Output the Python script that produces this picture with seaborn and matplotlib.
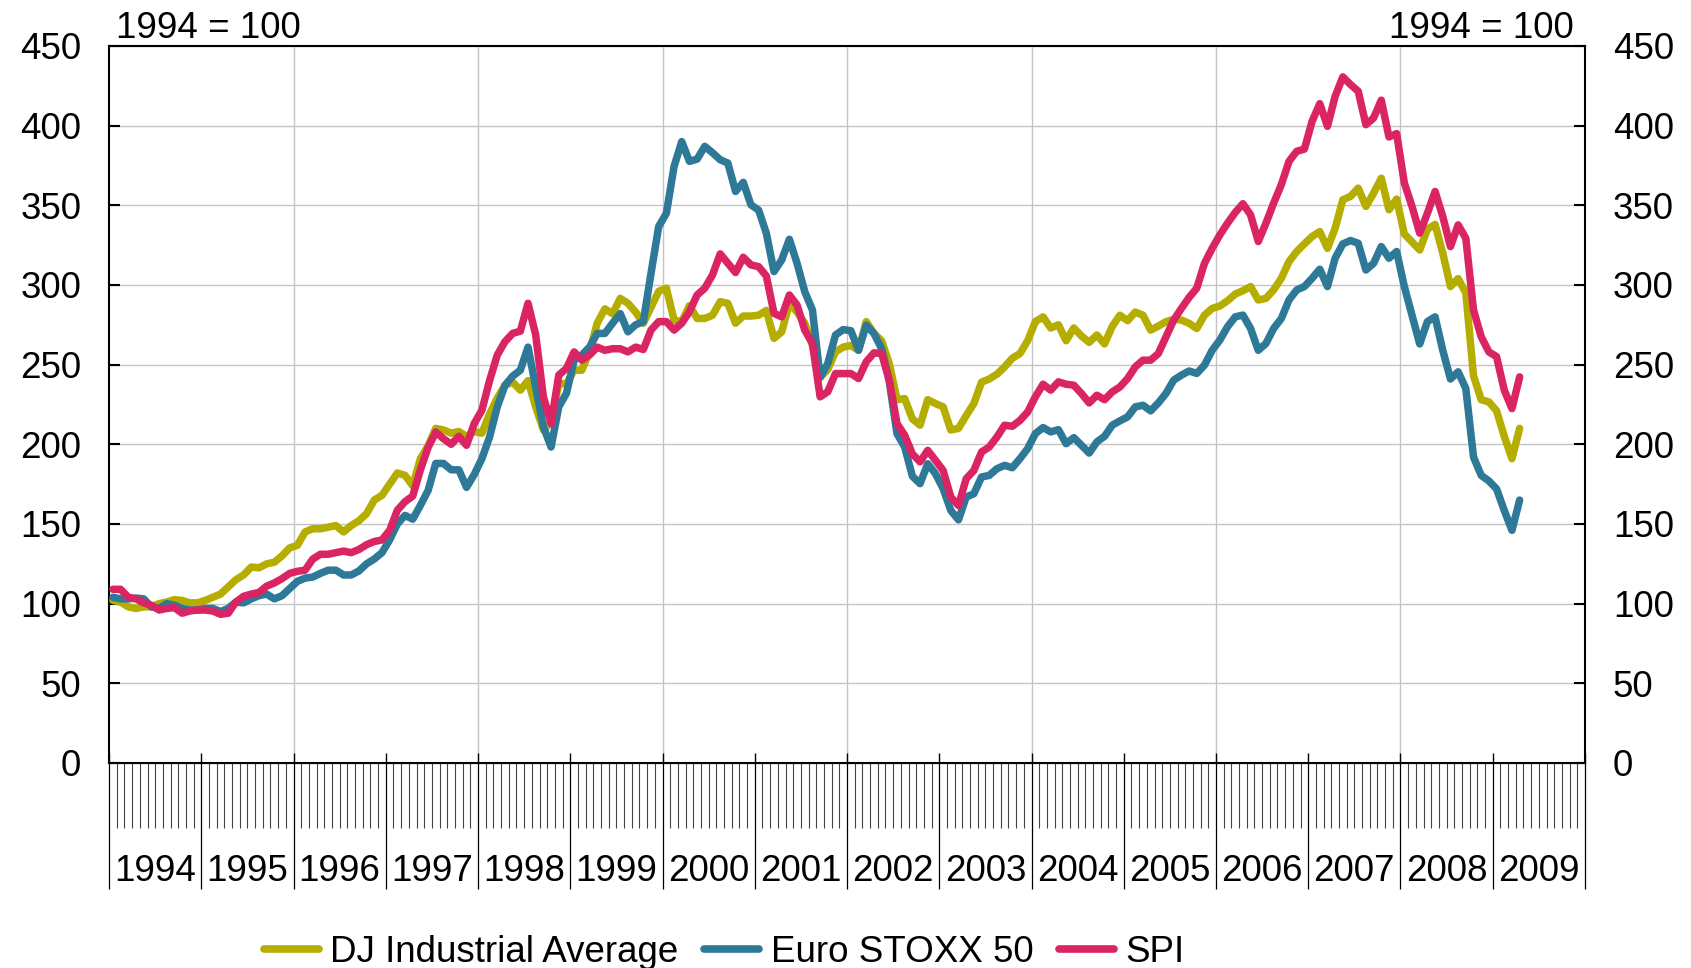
import numpy as np
import pandas as pd
import matplotlib
matplotlib.use("Agg")
import matplotlib.pyplot as plt
import matplotlib.transforms as mtransforms
import seaborn as sns

# Monatswerte Jan 1994 - Apr 2009, Index 1994 = 100
years = [str(y) for y in range(1994, 2010)]

dj = [
    102, 101, 98, 97, 98, 98, 100, 101, 102.5, 102, 100.5, 100.5,          # 1994
    102, 104, 106, 110.5, 115, 118, 123, 122.5, 125, 126, 130, 135,        # 1995
    136.6, 145, 147, 147, 148, 149, 145, 149, 152, 156.5, 165, 168,        # 1996
    175, 182, 180.5, 174, 191, 199, 210, 209, 207, 208, 205, 208,          # 1997
    207, 219, 229, 237, 239, 234, 240, 223.5, 209, 214, 238, 238,          # 1998
    246.5, 246.5, 258, 276, 285, 282, 291.6, 288.5, 283, 276, 286, 296,    # 1999
    298, 278, 277, 287, 279, 279, 281, 289.5, 288.5, 276, 280.5, 280.5,    # 2000
    281, 284, 266.5, 270.6, 288.5, 283, 276, 262, 242, 247, 258, 261,      # 2001
    262, 259, 277, 269.6, 265, 250.7, 228, 228.7, 216, 212, 228, 225.6,    # 2002
    223.5, 209, 210, 218, 225.6, 239, 241, 244, 248.6, 254, 257, 265,      # 2003
    277, 280, 273, 275, 265, 273, 268, 264, 268.6, 263, 274, 281,          # 2004
    277.6, 283, 281, 271.7, 274.2, 277, 278.4, 278, 275.9, 272.7, 281.1, 285.3,  # 2005
    286.8, 290.1, 294.3, 296.4, 299, 290.6, 291.6, 296.9, 304.2, 314.7, 321, 325.8,  # 2006
    330.4, 333.5, 323, 335.6, 353.5, 355.6, 360.8, 349.3, 357.6, 367, 347.2, 353.9,  # 2007
    332, 327, 322, 335, 338, 320, 299, 304, 295, 243, 228, 226.6,          # 2008
    221, 205, 191, 210,                                                    # 2009
]

stoxx = [
    104, 103, 103, 103.5, 103, 98, 97, 100, 99, 97, 96, 96,
    97, 97, 95, 97, 101, 100.5, 103, 105, 106, 103, 105, 109.5,
    114, 116, 116.7, 119, 121, 121, 118, 118, 120.5, 125, 128, 132,
    140, 150, 155.4, 153, 161.7, 171, 188, 188, 184, 184, 173, 181,
    191, 204.6, 223.5, 237, 242.8, 246.5, 261, 236, 211, 198.3, 223.5, 232,
    253, 256, 261, 269.6, 269.6, 276, 282, 270.6, 275, 277, 307.3, 336.7,
    345, 374.4, 390, 377.6, 379, 387, 383, 378.6, 376.5, 358.7, 364.4, 350.3,
    347, 332.5, 308.4, 315.7, 328.7, 313.6, 295.8, 284.3, 242, 250.7, 268.6, 272,
    271.3, 259, 274.8, 269.6, 260, 239.2, 206.7, 198.3, 180, 175.3, 187.8, 181.6,
    172.2, 158.5, 152.6, 166.9, 169, 179.5, 180.5, 184.7, 186.8, 185.3, 191, 197.3,
    206.7, 210.5, 207.8, 209.2, 200.4, 204.2, 199.4, 194.5, 201.5, 205, 212, 214.7,
    217.2, 223.5, 224.5, 221, 226, 232, 240.3, 243.4, 246, 244.5, 249.7, 259,
    265.4, 273.8, 280, 281.1, 272.7, 259, 263.3, 272.7, 279, 290.6, 296.9, 299,
    304.2, 309.9, 299, 316.8, 325.8, 327.9, 326.2, 309.4, 313.6, 324.1, 316.8, 321,
    299, 281, 263, 277, 280, 259, 241, 245.5, 235, 192, 180.5, 177,
    172, 158.5, 146, 165,
]

spi = [
    109, 109, 104, 103, 100.5, 99, 96, 97, 97.5, 94, 95.4, 96,
    96, 95.4, 93.3, 94, 101, 104.6, 106, 107, 111, 113, 115.7, 119,
    120.3, 121, 128, 131, 131, 132, 133, 132, 134, 137, 139, 140,
    146, 158.6, 164, 167.5, 184, 198, 207.7, 203.5, 200, 205, 199.4, 213,
    221.4, 240, 256, 264.4, 269.6, 271, 288.5, 268.6, 229.8, 213, 243.4, 247.6,
    258, 252.8, 256, 261, 259, 260, 260, 258, 261, 259.5, 271.7, 277,
    277, 271.7, 276, 283.2, 293.7, 298, 306.3, 319.5, 313.6, 307.8, 317.4, 312.6,
    311.5, 305.7, 282.2, 280, 293.7, 287.4, 271.7, 263.3, 229.8, 233, 244.4, 244.4,
    244.4, 241.3, 251.8, 257.4, 257, 240.3, 213, 205.7, 194, 189, 196.2, 190,
    183.6, 166.9, 161.6, 178.4, 183.6, 195.2, 198.3, 204.6, 212, 211.3, 215, 220.3,
    229.8, 237.7, 234, 239.2, 237.7, 237.1, 231.9, 226, 230.8, 228, 232.9, 236,
    241.3, 248.6, 252.8, 252.8, 257, 267.5, 278, 285.3, 292.2, 298, 313.6, 323,
    331.4, 338.8, 345.5, 351, 344, 327.3, 338.8, 351.4, 363, 377.6, 383.9, 385.3,
    402.7, 413.8, 399.6, 418.4, 430.6, 425.8, 421.6, 400.6, 404.8, 416, 392.9, 395,
    364, 349.3, 332.5, 345, 358.7, 343, 324.1, 337.7, 329.3, 284.3, 267.5, 258,
    255, 234, 222.4, 242.3,
]

series_names = ["DJ Industrial Average", "Euro STOXX 50", "SPI"]
colors = ["#B5AD00", "#2E7898", "#DA2463"]

# Monat in der Mitte des Intervalls
months = np.arange(len(dj)) + 0.5
df = pd.concat([
    pd.DataFrame({"month": months, "value": vals, "series": name})
    for name, vals in zip(series_names, [dj, stoxx, spi])
])

sns.set_style("white")
plt.rcParams["font.family"] = ["Liberation Sans", "DejaVu Sans"]
plt.rcParams["text.color"] = "black"
plt.rcParams["xtick.color"] = "black"
plt.rcParams["ytick.color"] = "black"
FS = 26.5

fig = plt.figure(figsize=(16.91, 9.68), dpi=100)
ax = fig.add_axes([0.0645, 0.2118, 0.8728, 0.7407])

sns.lineplot(data=df, x="month", y="value", hue="series", hue_order=series_names,
             palette=dict(zip(series_names, colors)), linewidth=5.4, ax=ax, zorder=3)

handles, labels = ax.get_legend_handles_labels()
ax.get_legend().remove()

ax.set_xlim(0, 192)
ax.set_ylim(0, 450)
ax.set_xlabel("")
ax.set_ylabel("")

# Gitter
ax.set_yticks(np.arange(0, 451, 50))
ax.yaxis.grid(True, color="#c4c4c4", linewidth=1, zorder=0)
for m in range(24, 192, 24):
    ax.axvline(m, color="#c4c4c4", linewidth=1, zorder=0)

for s in ax.spines.values():
    s.set_color("black")
    s.set_linewidth(1.5)

ax.tick_params(axis="y", direction="in", length=8, width=1.5, left=True, right=True,
               labelleft=True, labelright=True, labelsize=FS, pad=20, labelcolor="black")

# x-Achse: Jahresgrenzen und Monatsstriche
ax.set_xticks(np.arange(0, 193, 12))
ax.set_xticks(np.arange(0, 193, 1), minor=True)
ax.tick_params(axis="x", which="major", bottom=True, direction="out", length=91, width=0.9,
               color="black", labelbottom=False)
ax.tick_params(axis="x", which="minor", bottom=True, direction="out", length=47, width=0.8,
               color="#444444")
sec = ax.secondary_xaxis("bottom")
sec.set_xticks(np.arange(0, 193, 12))
sec.tick_params(bottom=True, direction="in", length=7, width=1, labelbottom=False)

trans = mtransforms.blended_transform_factory(ax.transData, ax.transAxes)
for k, y in enumerate(years):
    ax.text(k * 12 + 6, -0.152, y, transform=trans, ha="center", va="center",
            fontsize=FS, color="black")

fig.text(116 / 1691, 1 - 38 / 968, "1994 = 100", ha="left", va="baseline", fontsize=FS)
fig.text(1574 / 1691, 1 - 38 / 968, "1994 = 100", ha="right", va="baseline", fontsize=FS)

leg = fig.legend(handles, labels, loc="center left", bbox_to_anchor=(264 / 1691, 1 - 952 / 968),
                 ncol=3, frameon=False, fontsize=FS, handlelength=1.5, handletextpad=0.3,
                 columnspacing=0.7, borderaxespad=0, borderpad=0)
for t in leg.get_texts():
    t.set_color("black")
for h in leg.get_lines():
    h.set_linewidth(5.5)

fig.savefig("out.png", dpi=100)
